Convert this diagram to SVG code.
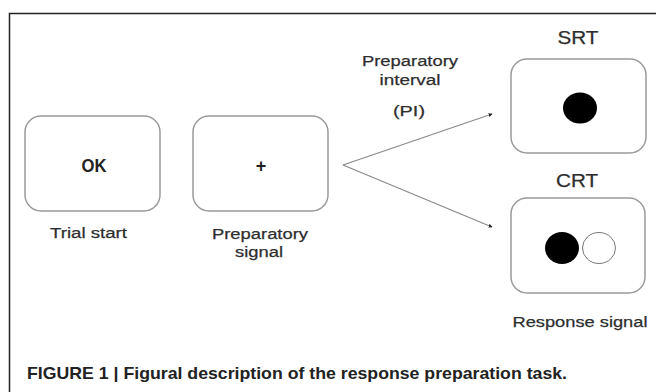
<svg xmlns="http://www.w3.org/2000/svg" width="656" height="392" viewBox="0 0 656 392">
<style>
.box{fill:#fff;stroke:#9a9a9a;stroke-width:1.5}
.lbl{font-family:"Liberation Sans",Arial,sans-serif;font-size:15.5px;fill:#2e2e2e;text-anchor:middle;stroke:#2e2e2e;stroke-width:0.25}
.hd{font-family:"Liberation Sans",Arial,sans-serif;font-size:17.5px;fill:#2e2e2e;text-anchor:middle;stroke:#2e2e2e;stroke-width:0.25}
.conn{stroke:#8a8a8a;stroke-width:1.3;fill:none}
</style>
<defs>
<marker id="dot" viewBox="0 0 6 6" refX="5" refY="3" markerWidth="4" markerHeight="4" orient="auto" markerUnits="userSpaceOnUse">
<path d="M0,0 L6,3 L0,6 z" fill="#222"/>
</marker>
</defs>
<rect width="656" height="392" fill="#fff"/>
<path d="M9.5,392 V13.5 H656" fill="none" stroke="#222" stroke-width="1.5"/>
<g id="trial-start">
<rect class="box" x="25" y="116" width="135" height="95" rx="16"/>
<text x="94" y="172" font-family="Liberation Sans,Arial,sans-serif" font-size="18" font-weight="bold" fill="#222" text-anchor="middle" textLength="25" lengthAdjust="spacingAndGlyphs">OK</text>
<text class="lbl" x="88.5" y="238" textLength="77" lengthAdjust="spacingAndGlyphs">Trial start</text>
</g>
<g id="preparatory-signal">
<rect class="box" x="193" y="116" width="135" height="95" rx="16"/>
<text x="261" y="172" font-family="Liberation Sans,Arial,sans-serif" font-size="18" font-weight="bold" fill="#222" text-anchor="middle">+</text>
<text class="lbl" x="260" y="239" textLength="96" lengthAdjust="spacingAndGlyphs">Preparatory</text>
<text class="lbl" x="259" y="257" textLength="48" lengthAdjust="spacingAndGlyphs">signal</text>
</g>
<g id="pi-label">
<text class="lbl" x="410" y="66" textLength="96" lengthAdjust="spacingAndGlyphs">Preparatory</text>
<text class="lbl" x="410" y="85" textLength="61" lengthAdjust="spacingAndGlyphs">interval</text>
<text class="lbl" x="409" y="116" textLength="32" lengthAdjust="spacingAndGlyphs">(PI)</text>
</g>
<g id="srt">
<text class="hd" x="578" y="44" textLength="41" lengthAdjust="spacingAndGlyphs">SRT</text>
<rect class="box" x="511" y="59" width="135" height="94" rx="16"/>
<ellipse cx="580" cy="108" rx="17" ry="15.5" fill="#000"/>
</g>
<g id="crt">
<text class="hd" x="577" y="187" textLength="42" lengthAdjust="spacingAndGlyphs">CRT</text>
<rect class="box" x="511" y="198" width="134" height="95" rx="16"/>
<ellipse cx="562" cy="248" rx="17" ry="16" fill="#000"/>
<ellipse cx="599" cy="248" rx="16.5" ry="15.5" fill="#fff" stroke="#777" stroke-width="1"/>
<text class="lbl" x="580" y="327" textLength="135" lengthAdjust="spacingAndGlyphs">Response signal</text>
</g>
<g id="connectors">
<path class="conn" d="M343,165 L492,114" marker-end="url(#dot)"/>
<path class="conn" d="M343,165 L492,227" marker-end="url(#dot)"/>
</g>
<text x="27" y="379" font-family="Liberation Sans,Arial,sans-serif" font-size="17" font-weight="bold" fill="#222" textLength="540" lengthAdjust="spacingAndGlyphs">FIGURE 1 | Figural description of the response preparation task.</text>
</svg>
